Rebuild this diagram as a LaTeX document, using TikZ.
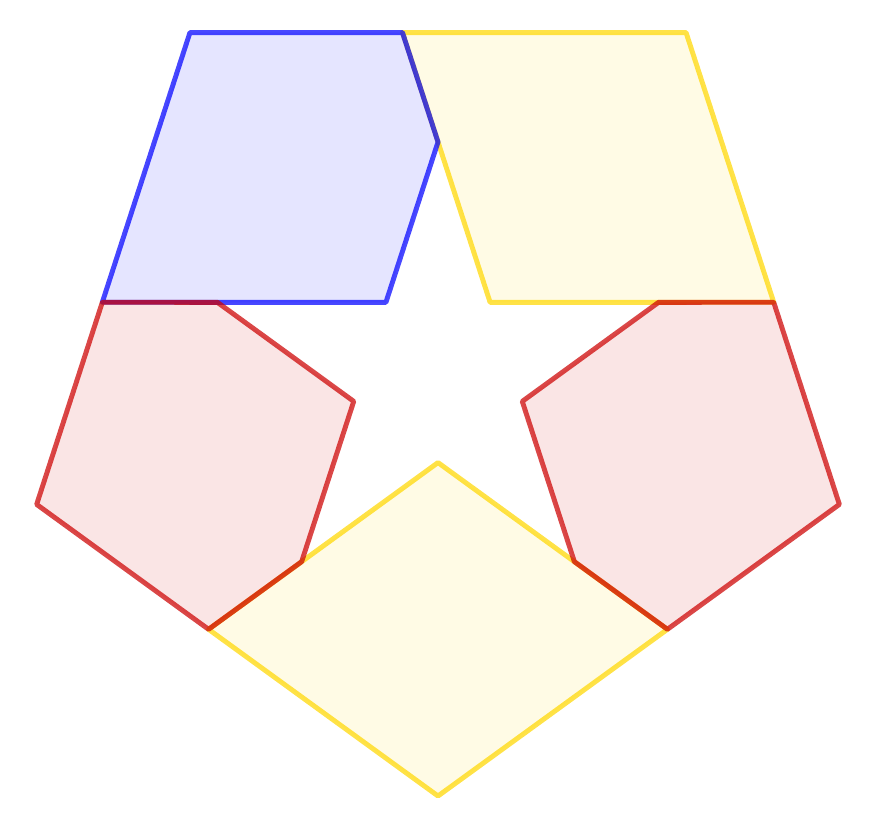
\documentclass[tikz,border=0pt]{standalone}
\usepackage{tikz}
\usetikzlibrary{calc}
\definecolor{tileblue}{RGB}{0,0,255}
\definecolor{tileyellow}{RGB}{255,215,0}
\definecolor{tilered}{RGB}{204,0,0}
\tikzstyle{tile}=[line width=1.4pt, line join=round, draw opacity=0.72, fill opacity=0.1]
\tikzstyle{bluetile}=[tile, draw=tileblue, fill=tileblue]
\tikzstyle{yellowtile}=[tile, draw=tileyellow, fill=tileyellow]
\tikzstyle{redtile}=[tile, draw=tilered, fill=tilered]

\begin{document}
\begin{tikzpicture}
        \useasboundingbox (0,0) rectangle (8.76,8.15);
        \coordinate (C) at (4.38,4.41);
        % outer pentagon, star tips, star inner corners
        \foreach \a in {54,126,198,270,342} \coordinate (O\a) at ($(C)+(\a:4.22)$);
        \foreach \a in {18,90,162,234,306} \coordinate (T\a) at ($(C)+(\a:2.32)$);
        \foreach \a in {54,126,198,270,342} \coordinate (I\a) at ($(C)+(\a:0.886)$);
        \coordinate (PL) at (intersection of T162--T18 and O126--O198);
        \coordinate (PR) at (intersection of T162--T18 and O54--O342);
        \coordinate (Q) at (intersection of T90--I54 and O126--O54);
        \coordinate (L) at (intersection of I270--T234 and O198--O270);
        \coordinate (R) at (intersection of I270--T306 and O342--O270);
        \draw [yellowtile] (Q) -- (O54) -- (PR) -- (I54) -- cycle;
        \draw [yellowtile] (I270) -- (R) -- (O270) -- (L) -- cycle;
        \draw [bluetile] (O126) -- (Q) -- (T90) -- (I126) -- (PL) -- cycle;
        \draw [redtile] (PL) -- (T162) -- (I198) -- (T234) -- (L) -- (O198) -- cycle;
        \draw [redtile] (T18) -- (PR) -- (O342) -- (R) -- (T306) -- (I342) -- cycle;
    \end{tikzpicture}
\end{document}
